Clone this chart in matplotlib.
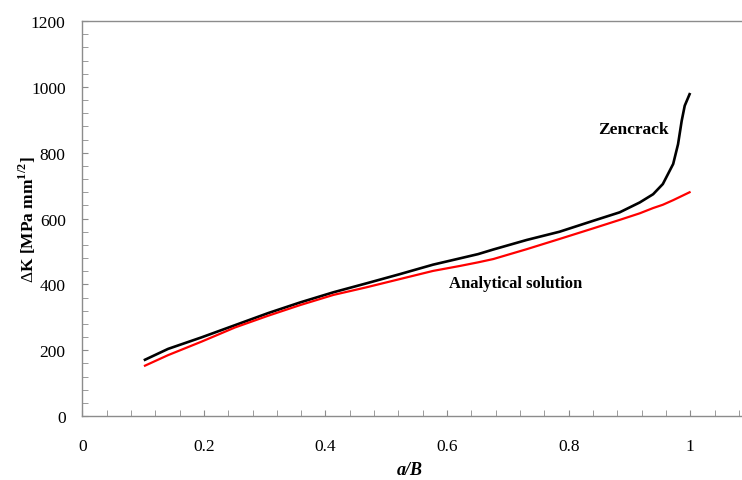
import numpy as np
import matplotlib
matplotlib.use("Agg")
import matplotlib.pyplot as plt
from matplotlib.ticker import MultipleLocator

plt.rcParams['font.family'] = ['Liberation Serif', 'DejaVu Serif']
plt.rcParams['mathtext.fontset'] = 'custom'
plt.rcParams['mathtext.rm'] = 'Liberation Serif'
plt.rcParams['mathtext.bf'] = 'Liberation Serif:bold'

# Zencrack sonucu (a/B, DeltaK)
zen_x = [0.103, 0.141, 0.196, 0.251, 0.306, 0.358, 0.413, 0.467, 0.522, 0.577,
         0.621, 0.651, 0.676, 0.731, 0.785, 0.840, 0.884, 0.917, 0.939, 0.955,
         0.972, 0.980, 0.986, 0.991, 0.999]
zen_y = [171, 204, 239, 276, 313, 345, 376, 403, 431, 460,
         479, 492, 506, 535, 560, 593, 619, 649, 674, 705,
         766, 826, 897, 943, 978]

# Analitik çözüm
ana_x = [0.103, 0.141, 0.196, 0.251, 0.306, 0.358, 0.413, 0.467, 0.522, 0.577,
         0.621, 0.651, 0.676, 0.731, 0.785, 0.840, 0.884, 0.917, 0.939, 0.955,
         0.972, 0.999]
ana_y = [153, 185, 226, 269, 305, 337, 368, 391, 416, 441,
         456, 467, 477, 507, 538, 570, 596, 616, 632, 642,
         656, 680]

fig = plt.figure(figsize=(7.42, 4.81), dpi=100)
ax = fig.add_axes([0.111, 0.133, 0.888, 0.821])

ax.plot(zen_x, zen_y, color='black', linewidth=1.9)
ax.plot(ana_x, ana_y, color='red', linewidth=1.6)

ax.set_xlim(0, 1.084)
ax.set_ylim(0, 1200)
ax.xaxis.set_major_locator(MultipleLocator(0.2))
ax.xaxis.set_minor_locator(MultipleLocator(0.04))
ax.yaxis.set_major_locator(MultipleLocator(200))
ax.yaxis.set_minor_locator(MultipleLocator(40))
ax.xaxis.set_major_formatter(plt.FuncFormatter(lambda v, p: f"{v:g}"))

for s in ['left', 'bottom', 'top']:
    ax.spines[s].set_color('#8c8c8c')
    ax.spines[s].set_linewidth(1.0)
ax.spines['right'].set_visible(False)

ax.tick_params(axis='both', which='both', direction='in', color='#8c8c8c',
               labelsize=12.5, top=False, right=False, length=4)
ax.tick_params(axis='x', which='major', pad=16)
ax.tick_params(axis='y', which='major', pad=12)

ax.set_xlabel('a/B', fontsize=13, fontweight='bold', style='italic')
ax.set_ylabel(r'$\Delta$K [MPa mm$^{\mathbf{1/2}}$]', fontsize=12.5,
              fontweight='bold')
ax.xaxis.set_label_coords(0.497, -0.115)
ax.yaxis.set_label_coords(-0.068, 0.5)

ax.text(0.848, 872, 'Zencrack', fontsize=12.5, fontweight='bold', va='center')
ax.text(0.603, 404, 'Analytical solution', fontsize=12, fontweight='bold',
        va='center')

fig.savefig('out.png', dpi=100)
